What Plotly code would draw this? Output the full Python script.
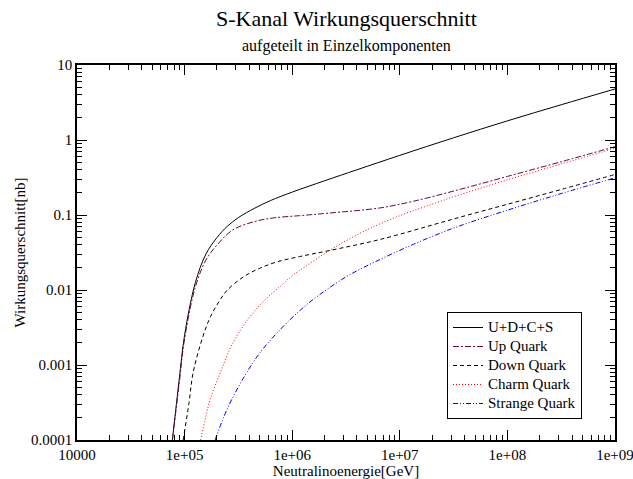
import plotly.graph_objects as go

# ---- data ----
total_E = [7.7e4, 8.9e4, 1.0e5, 1.26e5, 1.58e5, 2.0e5, 2.5e5, 3.16e5, 4.5e5, 6.3e5,
           1e6, 2e6, 4e6, 1e7, 3.16e7, 1e8, 3.16e8, 1e9]
total_xs = [1e-4, 6.3e-4, 2.5e-3, 0.0126, 0.0302, 0.0501, 0.0708, 0.0923, 0.1236, 0.156,
            0.202, 0.286, 0.401, 0.624, 1.07, 1.80, 2.95, 4.79]

up_E = [7.7e4, 8.9e4, 1.0e5, 1.26e5, 1.58e5, 2.0e5, 2.8e5, 4.4e5, 6.6e5, 1.17e6,
        2.2e6, 6.6e6, 1.35e7, 3.6e7, 1e8, 3.16e8, 1e9]
up_xs = [1e-4, 5.6e-4, 2.24e-3, 0.011, 0.0251, 0.0398, 0.0631, 0.0813, 0.0912, 0.098,
         0.106, 0.1245, 0.153, 0.219, 0.327, 0.513, 0.813]

down_E = [9.7e4, 1.1e5, 1.2e5, 1.48e5, 1.74e5, 2.14e5, 2.5e5, 3.55e5, 5.0e5, 7.2e5,
          1.17e6, 2.2e6, 6.6e6, 2.35e7, 3.6e7, 1e8, 3.16e8, 1e9]
down_xs = [1e-4, 3.16e-4, 7.9e-4, 2.4e-3, 4.4e-3, 7.4e-3, 0.010, 0.0151, 0.0195, 0.0237,
           0.0279, 0.0335, 0.0473, 0.0785, 0.0933, 0.139, 0.219, 0.347]

charm_E = [1.41e5, 1.58e5, 1.72e5, 2.14e5, 2.8e5, 4.0e5, 5.6e5, 7.8e5, 1e6, 1.35e6,
           2.4e6, 4.9e6, 1e7, 1.9e7, 3.6e7, 1e8, 3.16e8, 1e9]
charm_xs = [1e-4, 2.1e-4, 3.4e-4, 7.8e-4, 1.95e-3, 4.3e-3, 7.4e-3, 0.0113, 0.0155, 0.0209,
            0.036, 0.063, 0.098, 0.136, 0.186, 0.295, 0.479, 0.776]

strange_E = [1.92e5, 2.46e5, 3.5e5, 5.0e5, 7.7e5, 1.14e6, 1.57e6, 3.2e6, 6.5e6, 1.34e7,
             2.45e7, 3.6e7, 1e8, 3.16e8, 1e9]
strange_xs = [1e-4, 2.5e-4, 6.6e-4, 1.45e-3, 2.95e-3, 5.1e-3, 7.5e-3, 0.0151, 0.0254, 0.0407,
              0.0582, 0.0716, 0.116, 0.193, 0.313]

series_names = ["U+D+C+S", "Up Quark", "Down Quark", "Charm Quark", "Strange Quark"]

x_tickvals = [1e4, 1e5, 1e6, 1e7, 1e8, 1e9]
x_ticktext = ["10000", "1e+05", "1e+06", "1e+07", "1e+08", "1e+09"]
y_tickvals = [1e-4, 1e-3, 1e-2, 1e-1, 1, 10]
y_ticktext = ["0.0001", "0.001", "0.01", "0.1", "1", "10"]

FONT = "Liberation Serif"

styles = [
    dict(color="#000000", dash="solid"),
    dict(color="#670748", dash="6px,2px,2px,2px"),
    dict(color="#000000", dash="4px,3px"),
    dict(color="#ff0000", dash="1px,2px"),
    dict(color="#0000ff", dash="5px,2px,1px,2px,1px,2px"),
]

fig = go.Figure()
for name, xs, ys, st in zip(series_names,
                            [total_E, up_E, down_E, charm_E, strange_E],
                            [total_xs, up_xs, down_xs, charm_xs, strange_xs],
                            styles):
    fig.add_trace(go.Scatter(x=xs, y=ys, mode="lines",
                             name="<span style='font-size:15px'>" + name + "</span>",
                             line=dict(color=st["color"], dash=st["dash"], width=1,
                                       shape="spline", smoothing=1.0)))

minor_x = [m * 10 ** d for d in range(4, 9) for m in range(2, 10)]
minor_y = [m * 10.0 ** d for d in range(-4, 1) for m in range(2, 10)]

axis_common = dict(type="log", showgrid=False, zeroline=False, showline=True,
                   linecolor="black", linewidth=1.5, mirror="allticks",
                   ticks="inside", ticklen=10, tickwidth=1, tickcolor="black",
                   automargin=False, ticklabeloverflow="allow",
                   tickfont=dict(family=FONT, size=15, color="black"))

fig.update_xaxes(**axis_common, range=[4, 9], tickvals=x_tickvals, ticktext=x_ticktext,
                 minor=dict(tickvals=minor_x, ticks="inside", ticklen=5, tickwidth=1,
                            tickcolor="black", showgrid=False),
                 title=dict(text="Neutralinoenergie[GeV]", font=dict(family=FONT, size=15, color="black"),
                            standoff=2))
fig.update_yaxes(**axis_common, range=[-4, 1], tickvals=y_tickvals, ticktext=y_ticktext,
                 minor=dict(tickvals=minor_y, ticks="inside", ticklen=5, tickwidth=1,
                            tickcolor="black", showgrid=False),
                 title=dict(text="Wirkungsquerschnitt[nb]", font=dict(family=FONT, size=15, color="black"),
                            standoff=2))

pw, ph = 633 - 77 - 18, 479 - 65 - 39

fig.update_layout(
    width=633, height=479,
    margin=dict(l=77, r=18, t=65, b=39, autoexpand=False),
    paper_bgcolor="white", plot_bgcolor="white",
    font=dict(family=FONT, size=15, color="black"),
    showlegend=True,
    legend=dict(x=(447 - 77) / pw, y=(440 - 419) / ph, xanchor="left", yanchor="bottom",
                bordercolor="black", borderwidth=1, bgcolor="white",
                font=dict(family=FONT, size=12, color="black"),
                tracegroupgap=0, itemwidth=30),
    annotations=[
        dict(text="S-Kanal Wirkungsquerschnitt", x=(346 - 77) / pw, y=(440 - 18) / ph,
             xref="paper", yref="paper", xanchor="center", yanchor="middle",
             showarrow=False, font=dict(family=FONT, size=22, color="black")),
        dict(text="aufgeteilt in Einzelkomponenten", x=(346 - 77) / pw, y=(440 - 46) / ph,
             xref="paper", yref="paper", xanchor="center", yanchor="middle",
             showarrow=False, font=dict(family=FONT, size=16, color="black")),
    ],
)

fig.write_html("out.html")
